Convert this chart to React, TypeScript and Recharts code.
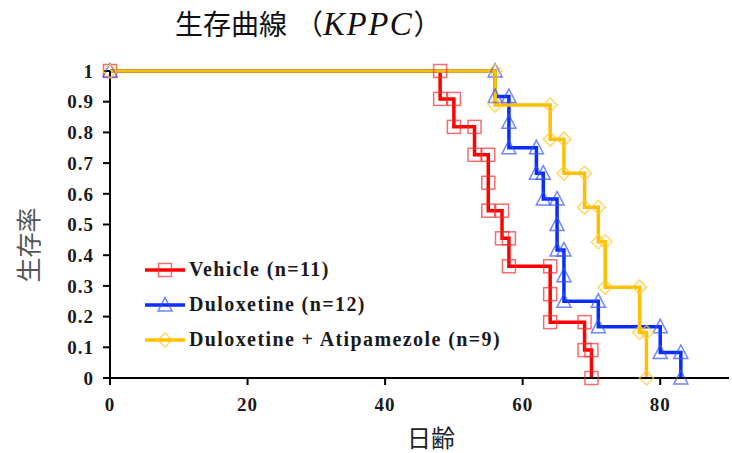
import { LineChart, Line, XAxis, YAxis } from 'recharts';

// Kaplan-Meier event days and survival after each event
const vehicleDays = [0, 48, 50, 53, 55, 55, 57, 58, 64, 64, 69, 70];
const vehicleSurvival = [1, 0.909, 0.818, 0.727, 0.636, 0.545, 0.455, 0.364, 0.273, 0.182, 0.091, 0];

const duloxetineDays = [0, 56, 58, 58, 62, 63, 65, 65, 66, 66, 71, 80, 83];
const duloxetineSurvival = [1, 0.917, 0.833, 0.75, 0.667, 0.583, 0.5, 0.417, 0.333, 0.25, 0.167, 0.083, 0];

const comboDays = [0, 56, 64, 66, 69, 71, 72, 77, 78];
const comboSurvival = [1, 0.889, 0.778, 0.667, 0.556, 0.444, 0.296, 0.148, 0];

const xTicks = [0, 20, 40, 60, 80];
const yTicks = [0, 0.1, 0.2, 0.3, 0.4, 0.5, 0.6, 0.7, 0.8, 0.9, 1];

const seriesNames = ['Vehicle (n=11)', 'Duloxetine (n=12)', 'Duloxetine + Atipamezole (n=9)'];

const RED = '#ff0000';
const BLUE = '#0a2dff';
const GOLD = '#ffbf00';

const SERIF = '"Liberation Serif", serif';
const CJK = '"Noto Sans CJK JP", sans-serif';

// step points: (day, previous level) then (day, new level)
function toSteps(days: number[], surv: number[]) {
  const pts = [{ day: days[0], s: surv[0] }];
  for (let i = 1; i < days.length; i++) {
    if (days[i] !== days[i - 1]) pts.push({ day: days[i], s: surv[i - 1] });
    pts.push({ day: days[i], s: surv[i] });
  }
  return pts;
}

const vehicleData = toSteps(vehicleDays, vehicleSurvival);
const duloxetineData = toSteps(duloxetineDays, duloxetineSurvival);
const comboData = toSteps(comboDays, comboSurvival);

function Square({ cx, cy }: { cx: number; cy: number }) {
  return <rect x={cx - 6.5} y={cy - 6.5} width={13} height={13} fill="none" stroke="#f03030" strokeOpacity={0.7} strokeWidth={1.5} />;
}

function Triangle({ cx, cy }: { cx: number; cy: number }) {
  return (
    <polygon
      points={`${cx},${cy - 7.5} ${cx + 7},${cy + 6} ${cx - 7},${cy + 6}`}
      fill="none"
      stroke="#3050ff"
      strokeOpacity={0.7}
      strokeWidth={1.5}
    />
  );
}

function Diamond({ cx, cy }: { cx: number; cy: number }) {
  return (
    <polygon
      points={`${cx},${cy - 7} ${cx + 7},${cy} ${cx},${cy + 7} ${cx - 7},${cy}`}
      fill="none"
      stroke="#ffc933"
      strokeOpacity={0.75}
      strokeWidth={1.5}
    />
  );
}

const shapes = [Square, Triangle, Diamond];
const colors = [RED, BLUE, GOLD];

function makeDot(Shape: typeof Square) {
  return (props: any) => {
    const { cx, cy, index } = props;
    if (cx == null || cy == null) return <g key={index} />;
    return <Shape key={index} cx={cx} cy={cy} />;
  };
}

function Legend() {
  return (
    <div style={{ position: 'absolute', left: 145, top: 252 }}>
      {seriesNames.map((name, i) => {
        const Shape = shapes[i];
        return (
          <div key={name} style={{ display: 'flex', alignItems: 'center', height: 35 }}>
            <svg width={42} height={20}>
              <line x1={0} y1={10} x2={40} y2={10} stroke={colors[i]} strokeWidth={3.5} />
              <Shape cx={20} cy={10} />
            </svg>
            <span
              style={{
                fontFamily: SERIF,
                fontSize: 20,
                fontWeight: 'bold',
                letterSpacing: 1.4,
                color: '#1a1a1a',
                marginLeft: 2,
                whiteSpace: 'nowrap',
              }}
            >
              {name}
            </span>
          </div>
        );
      })}
    </div>
  );
}

const tickStyle = { fill: '#1a1a1a', fontSize: 19, fontFamily: SERIF, fontWeight: 'bold', letterSpacing: 1 };

export default function App() {
  return (
    <div style={{ position: 'absolute', left: 0, top: 0, width: 732, height: 453, background: '#fff' }}>
      <div style={{ position: 'absolute', left: 175, top: 6, fontSize: 28, lineHeight: '34px', color: '#111', whiteSpace: 'nowrap' }}>
        <span style={{ fontFamily: CJK }}>生存曲線</span>
        <span style={{ fontFamily: CJK, marginLeft: 8 }}>（</span>
        <span style={{ fontFamily: SERIF, fontStyle: 'italic', fontSize: 33, letterSpacing: 1.5 }}>KPPC</span>
        <span style={{ fontFamily: CJK }}>）</span>
      </div>
      <div
        style={{
          position: 'absolute',
          left: 27,
          top: 245,
          transform: 'translate(-50%, -50%) rotate(-90deg)',
          fontFamily: CJK,
          fontSize: 25,
          lineHeight: '25px',
          color: '#555',
          whiteSpace: 'nowrap',
        }}
      >
        生存率
      </div>
      <div
        style={{
          position: 'absolute',
          left: 431,
          top: 424,
          transform: 'translateX(-50%)',
          fontFamily: CJK,
          fontSize: 24,
          lineHeight: '26px',
          color: '#222',
          whiteSpace: 'nowrap',
        }}
      >
        日齢
      </div>
      <LineChart width={732} height={453} margin={{ top: 71, right: 3, bottom: 45, left: 50 }}>
        <XAxis
          type="number"
          dataKey="day"
          domain={[0, 90]}
          ticks={xTicks}
          allowDuplicatedCategory={false}
          height={30}
          stroke="#000"
          strokeWidth={2}
          tickSize={7}
          tickMargin={13}
          tick={tickStyle}
        />
        <YAxis
          type="number"
          dataKey="s"
          domain={[0, 1]}
          ticks={yTicks}
          width={60}
          stroke="#000"
          strokeWidth={2}
          tickSize={7}
          tickMargin={9}
          tick={tickStyle}
        />
        <Line
          data={vehicleData}
          dataKey="s"
          type="linear"
          stroke={RED}
          strokeWidth={3.5}
          dot={makeDot(Square)}
          activeDot={false}
          isAnimationActive={false}
        />
        <Line
          data={duloxetineData}
          dataKey="s"
          type="linear"
          stroke={BLUE}
          strokeWidth={3.5}
          dot={makeDot(Triangle)}
          activeDot={false}
          isAnimationActive={false}
        />
        <Line
          data={comboData}
          dataKey="s"
          type="linear"
          stroke={GOLD}
          strokeWidth={3.5}
          dot={makeDot(Diamond)}
          activeDot={false}
          isAnimationActive={false}
        />
      </LineChart>
      <Legend />
    </div>
  );
}
